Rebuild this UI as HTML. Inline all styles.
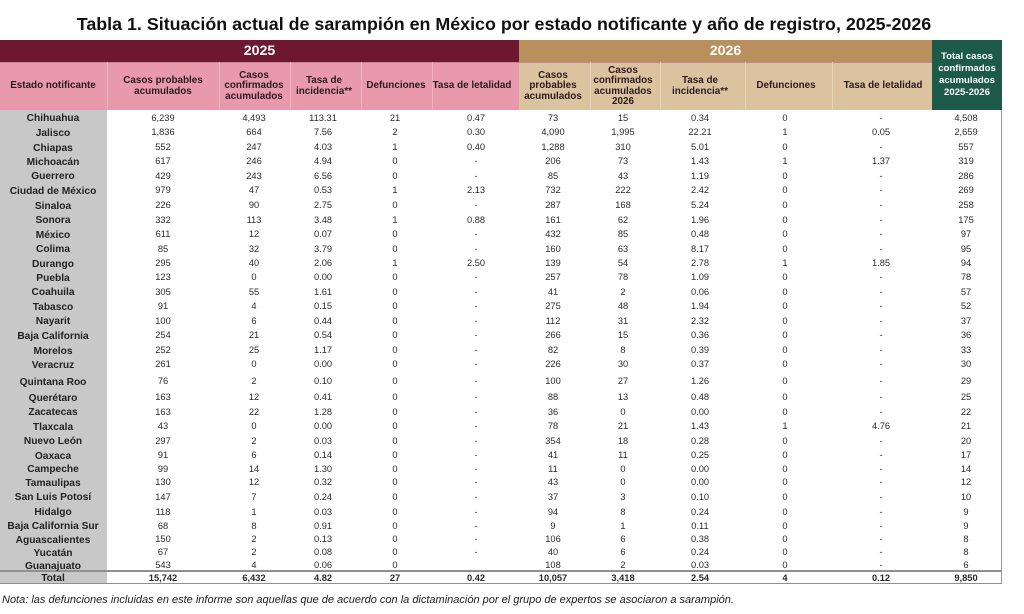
<!DOCTYPE html>
<html><head><meta charset="utf-8">
<style>
*{margin:0;padding:0;box-sizing:border-box}
body{width:1024px;height:614px;background:#fff;position:relative;overflow:hidden;font-family:"Liberation Sans",sans-serif;color:#2a2a2a}
.abs{position:absolute}
.title{position:absolute;left:0;width:1008px;top:12px;height:24px;line-height:24px;text-align:center;font-weight:bold;font-size:17.85px;color:#111}
.hd{position:absolute;top:63px;height:47px;display:flex;align-items:center;justify-content:center;text-align:center;font-weight:bold;font-size:9.9px;line-height:10.3px;color:#2b1a1e;white-space:nowrap}
.yr{position:absolute;top:40px;height:22px;line-height:22px;text-align:center;color:#fff;font-weight:bold;font-size:14.2px}
.sep{position:absolute;top:62px;height:47px;width:1px}
.r{position:absolute;left:0;width:1002px;height:14px;line-height:14px;font-size:9.3px}
.r span{position:absolute;top:0;text-align:center;white-space:nowrap}
.r span:nth-child(1){left:0;width:106px;top:1.5px;font-weight:bold;font-size:10.2px;color:#222}
.r span:nth-child(2){left:113px;width:100px}
.r span:nth-child(3){left:214px;width:80px}
.r span:nth-child(4){left:288px;width:70px}
.r span:nth-child(5){left:360px;width:70px}
.r span:nth-child(6){left:436px;width:80px}
.r span:nth-child(7){left:518px;width:70px}
.r span:nth-child(8){left:583px;width:80px}
.r span:nth-child(9){left:660px;width:80px}
.r span:nth-child(10){left:745px;width:80px}
.r span:nth-child(11){left:831px;width:100px}
.r span:nth-child(12){left:931px;width:70px}
.tot span{font-weight:bold}
.note{position:absolute;left:2px;top:593px;font-style:italic;font-size:11px;line-height:14px;color:#222;white-space:nowrap}
</style></head><body>
<div class="title">Tabla 1. Situación actual de sarampión en México por estado notificante y año de registro, 2025-2026</div>

<!-- header backgrounds -->
<div class="abs" style="left:0;top:40px;width:519px;height:22px;background:#6d1731"></div>
<div class="abs" style="left:519px;top:40px;width:413px;height:22px;background:#b98f5e"></div>
<div class="abs" style="left:0;top:62px;width:519px;height:48px;background:#e899ac"></div>
<div class="abs" style="left:519px;top:62px;width:413px;height:48px;background:#dcc39f"></div>
<div class="abs" style="left:932px;top:40px;width:70px;height:70px;background:#1e5a49"></div>
<div class="abs" style="left:0;top:62px;width:932px;height:1px;background:#c98596"></div>

<!-- header separators -->
<div class="sep" style="left:107px;background:#eeb3c1"></div>
<div class="sep" style="left:219px;background:#eeb3c1"></div>
<div class="sep" style="left:290px;background:#eeb3c1"></div>
<div class="sep" style="left:361px;background:#eeb3c1"></div>
<div class="sep" style="left:432px;background:#eeb3c1"></div>
<div class="sep" style="left:590px;background:#e7d5b9"></div>
<div class="sep" style="left:660px;background:#e7d5b9"></div>
<div class="sep" style="left:745px;background:#e7d5b9"></div>
<div class="sep" style="left:832px;background:#e7d5b9"></div>

<div class="yr" style="left:0;width:519px">2025</div>
<div class="yr" style="left:519px;width:413px">2026</div>

<div class="hd" style="left:0;width:106px">Estado notificante</div>
<div class="hd" style="left:113px;width:100px">Casos probables<br>acumulados</div>
<div class="hd" style="left:214px;width:80px">Casos<br>confirmados<br>acumulados</div>
<div class="hd" style="left:289px;width:70px">Tasa de<br>incidencia**</div>
<div class="hd" style="left:361px;width:70px">Defunciones</div>
<div class="hd" style="left:432px;width:80px">Tasa de letalidad</div>
<div class="hd" style="left:518px;width:70px">Casos<br>probables<br>acumulados</div>
<div class="hd" style="left:583px;width:80px">Casos<br>confirmados<br>acumulados<br>2026</div>
<div class="hd" style="left:660px;width:80px">Tasa de<br>incidencia**</div>
<div class="hd" style="left:746px;width:80px">Defunciones</div>
<div class="hd" style="left:833px;width:100px">Tasa de letalidad</div>
<div class="hd" style="left:932px;width:70px;top:40px;height:70px;color:#fff;font-size:9.6px;line-height:11.8px">Total casos<br>confirmados<br>acumulados<br>2025-2026</div>

<!-- body backgrounds -->
<div class="abs" style="left:0;top:110px;width:107px;height:474px;background:#c8c8c8"></div>
<div class="abs" style="left:1001px;top:110px;width:1px;height:474px;background:#9a9a9a"></div>
<div class="abs" style="left:0;top:570px;width:1002px;height:2px;background:#8f8f8f"></div>
<div class="abs" style="left:0;top:583px;width:1002px;height:1px;background:#8f8f8f"></div>

<div class="r" style="top:110.7px"><span>Chihuahua</span><span>6,239</span><span>4,493</span><span>113.31</span><span>21</span><span>0.47</span><span>73</span><span>15</span><span>0.34</span><span>0</span><span>-</span><span>4,508</span></div>
<div class="r" style="top:125.3px"><span>Jalisco</span><span>1,836</span><span>664</span><span>7.56</span><span>2</span><span>0.30</span><span>4,090</span><span>1,995</span><span>22.21</span><span>1</span><span>0.05</span><span>2,659</span></div>
<div class="r" style="top:140px"><span>Chiapas</span><span>552</span><span>247</span><span>4.03</span><span>1</span><span>0.40</span><span>1,288</span><span>310</span><span>5.01</span><span>0</span><span>-</span><span>557</span></div>
<div class="r" style="top:154px"><span>Michoacán</span><span>617</span><span>246</span><span>4.94</span><span>0</span><span>-</span><span>206</span><span>73</span><span>1.43</span><span>1</span><span>1.37</span><span>319</span></div>
<div class="r" style="top:168.7px"><span>Guerrero</span><span>429</span><span>243</span><span>6.56</span><span>0</span><span>-</span><span>85</span><span>43</span><span>1.19</span><span>0</span><span>-</span><span>286</span></div>
<div class="r" style="top:183.3px"><span>Ciudad de México</span><span>979</span><span>47</span><span>0.53</span><span>1</span><span>2.13</span><span>732</span><span>222</span><span>2.42</span><span>0</span><span>-</span><span>269</span></div>
<div class="r" style="top:198px"><span>Sinaloa</span><span>226</span><span>90</span><span>2.75</span><span>0</span><span>-</span><span>287</span><span>168</span><span>5.24</span><span>0</span><span>-</span><span>258</span></div>
<div class="r" style="top:212.7px"><span>Sonora</span><span>332</span><span>113</span><span>3.48</span><span>1</span><span>0.88</span><span>161</span><span>62</span><span>1.96</span><span>0</span><span>-</span><span>175</span></div>
<div class="r" style="top:227px"><span>México</span><span>611</span><span>12</span><span>0.07</span><span>0</span><span>-</span><span>432</span><span>85</span><span>0.48</span><span>0</span><span>-</span><span>97</span></div>
<div class="r" style="top:241.7px"><span>Colima</span><span>85</span><span>32</span><span>3.79</span><span>0</span><span>-</span><span>160</span><span>63</span><span>8.17</span><span>0</span><span>-</span><span>95</span></div>
<div class="r" style="top:256px"><span>Durango</span><span>295</span><span>40</span><span>2.06</span><span>1</span><span>2.50</span><span>139</span><span>54</span><span>2.78</span><span>1</span><span>1.85</span><span>94</span></div>
<div class="r" style="top:270.3px"><span>Puebla</span><span>123</span><span>0</span><span>0.00</span><span>0</span><span>-</span><span>257</span><span>78</span><span>1.09</span><span>0</span><span>-</span><span>78</span></div>
<div class="r" style="top:284.7px"><span>Coahuila</span><span>305</span><span>55</span><span>1.61</span><span>0</span><span>-</span><span>41</span><span>2</span><span>0.06</span><span>0</span><span>-</span><span>57</span></div>
<div class="r" style="top:299px"><span>Tabasco</span><span>91</span><span>4</span><span>0.15</span><span>0</span><span>-</span><span>275</span><span>48</span><span>1.94</span><span>0</span><span>-</span><span>52</span></div>
<div class="r" style="top:313.7px"><span>Nayarit</span><span>100</span><span>6</span><span>0.44</span><span>0</span><span>-</span><span>112</span><span>31</span><span>2.32</span><span>0</span><span>-</span><span>37</span></div>
<div class="r" style="top:328.3px"><span>Baja California</span><span>254</span><span>21</span><span>0.54</span><span>0</span><span>-</span><span>266</span><span>15</span><span>0.36</span><span>0</span><span>-</span><span>36</span></div>
<div class="r" style="top:343px"><span>Morelos</span><span>252</span><span>25</span><span>1.17</span><span>0</span><span>-</span><span>82</span><span>8</span><span>0.39</span><span>0</span><span>-</span><span>33</span></div>
<div class="r" style="top:357.3px"><span>Veracruz</span><span>261</span><span>0</span><span>0.00</span><span>0</span><span>-</span><span>226</span><span>30</span><span>0.37</span><span>0</span><span>-</span><span>30</span></div>
<div class="r" style="top:374px"><span>Quintana Roo</span><span>76</span><span>2</span><span>0.10</span><span>0</span><span>-</span><span>100</span><span>27</span><span>1.26</span><span>0</span><span>-</span><span>29</span></div>
<div class="r" style="top:390.3px"><span>Querétaro</span><span>163</span><span>12</span><span>0.41</span><span>0</span><span>-</span><span>88</span><span>13</span><span>0.48</span><span>0</span><span>-</span><span>25</span></div>
<div class="r" style="top:404.7px"><span>Zacatecas</span><span>163</span><span>22</span><span>1.28</span><span>0</span><span>-</span><span>36</span><span>0</span><span>0.00</span><span>0</span><span>-</span><span>22</span></div>
<div class="r" style="top:419.3px"><span>Tlaxcala</span><span>43</span><span>0</span><span>0.00</span><span>0</span><span>-</span><span>78</span><span>21</span><span>1.43</span><span>1</span><span>4.76</span><span>21</span></div>
<div class="r" style="top:433.7px"><span>Nuevo León</span><span>297</span><span>2</span><span>0.03</span><span>0</span><span>-</span><span>354</span><span>18</span><span>0.28</span><span>0</span><span>-</span><span>20</span></div>
<div class="r" style="top:448px"><span>Oaxaca</span><span>91</span><span>6</span><span>0.14</span><span>0</span><span>-</span><span>41</span><span>11</span><span>0.25</span><span>0</span><span>-</span><span>17</span></div>
<div class="r" style="top:461.7px"><span>Campeche</span><span>99</span><span>14</span><span>1.30</span><span>0</span><span>-</span><span>11</span><span>0</span><span>0.00</span><span>0</span><span>-</span><span>14</span></div>
<div class="r" style="top:475.3px"><span>Tamaulipas</span><span>130</span><span>12</span><span>0.32</span><span>0</span><span>-</span><span>43</span><span>0</span><span>0.00</span><span>0</span><span>-</span><span>12</span></div>
<div class="r" style="top:489.7px"><span>San Luis Potosí</span><span>147</span><span>7</span><span>0.24</span><span>0</span><span>-</span><span>37</span><span>3</span><span>0.10</span><span>0</span><span>-</span><span>10</span></div>
<div class="r" style="top:504.7px"><span>Hidalgo</span><span>118</span><span>1</span><span>0.03</span><span>0</span><span>-</span><span>94</span><span>8</span><span>0.24</span><span>0</span><span>-</span><span>9</span></div>
<div class="r" style="top:518.7px"><span>Baja California Sur</span><span>68</span><span>8</span><span>0.91</span><span>0</span><span>-</span><span>9</span><span>1</span><span>0.11</span><span>0</span><span>-</span><span>9</span></div>
<div class="r" style="top:532px"><span>Aguascalientes</span><span>150</span><span>2</span><span>0.13</span><span>0</span><span>-</span><span>106</span><span>6</span><span>0.38</span><span>0</span><span>-</span><span>8</span></div>
<div class="r" style="top:545px"><span>Yucatán</span><span>67</span><span>2</span><span>0.08</span><span>0</span><span>-</span><span>40</span><span>6</span><span>0.24</span><span>0</span><span>-</span><span>8</span></div>
<div class="r" style="top:558px"><span>Guanajuato</span><span>543</span><span>4</span><span>0.06</span><span>0</span><span></span><span>108</span><span>2</span><span>0.03</span><span>0</span><span>-</span><span>6</span></div>
<div class="r tot" style="top:570.5px"><span>Total</span><span>15,742</span><span>6,432</span><span>4.82</span><span>27</span><span>0.42</span><span>10,057</span><span>3,418</span><span>2.54</span><span>4</span><span>0.12</span><span>9,850</span></div>

<div class="note">Nota: las defunciones incluidas en este informe son aquellas que de acuerdo con la dictaminación por el grupo de expertos se asociaron a sarampión.</div>
</body></html>
